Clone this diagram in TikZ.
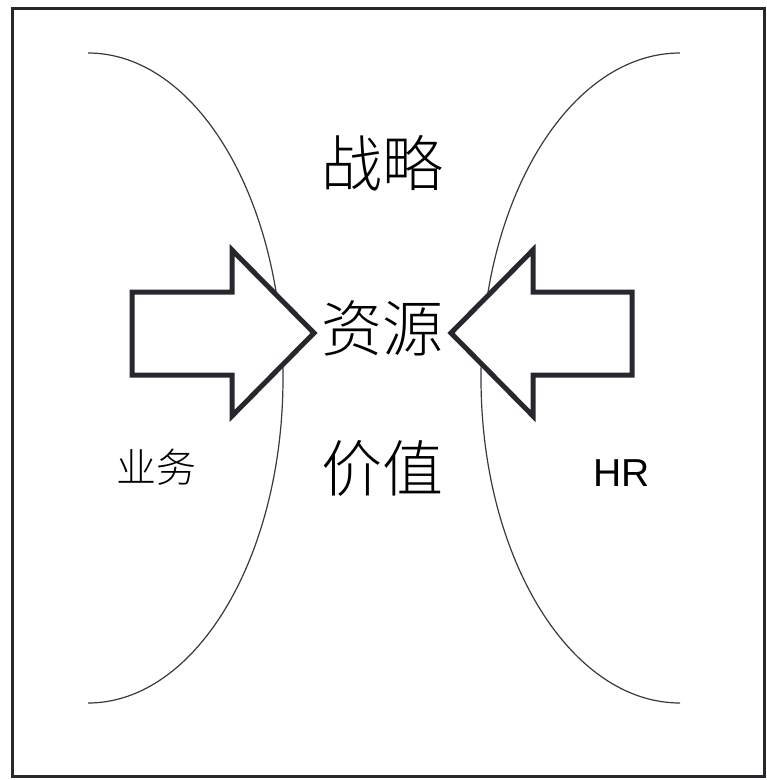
\documentclass[tikz,border=0pt]{standalone}
\usepackage{fontspec}
\newfontfamily\cjk{Noto Sans CJK SC Light}
\newfontfamily\latinsans{Liberation Sans}
\definecolor{frame}{HTML}{26282E}
\definecolor{curve}{HTML}{333A45}
\begin{document}
\begin{tikzpicture}[x=1pt,y=-1pt,
  fatarrow/.style={draw=frame,line width=5pt,fill=white,line join=miter},
  bigtxt/.style={font=\cjk\fontsize{61}{63}\selectfont,inner sep=0pt},
  sidetxt/.style={font=\cjk\fontsize{40}{42}\selectfont,inner sep=0pt},
  curveline/.style={draw=curve,line width=1.2pt}]
\useasboundingbox (0,0) rectangle (767,780);
\draw[frame,line width=3pt] (12,8) rectangle (764,776);
% curves
\draw[curveline] (88,53) arc[start angle=-90,end angle=90,x radius=195,y radius=325];
\draw[curveline] (680,53) arc[start angle=-90,end angle=-270,x radius=199,y radius=325];
% arrows
\draw[fatarrow] (132,292) -- (232,292) -- (232,250) -- (314,333) -- (232,416) -- (232,375) -- (132,375) -- cycle;
\draw[fatarrow] (632,292) -- (533,292) -- (533,250) -- (451,333) -- (533,416) -- (533,375) -- (632,375) -- cycle;
% texts
\node[bigtxt] (zl) at (382,163) {战略};
\node[bigtxt] (zy) at (382,328) {资源};
\node[bigtxt] (jz) at (382,468) {价值};
\node[sidetxt] (yw) at (156,467) {业务};
\node[font=\latinsans\fontsize{39}{42}\selectfont,inner sep=0pt] (hr) at (622,473) {HR};
\end{tikzpicture}
\end{document}
